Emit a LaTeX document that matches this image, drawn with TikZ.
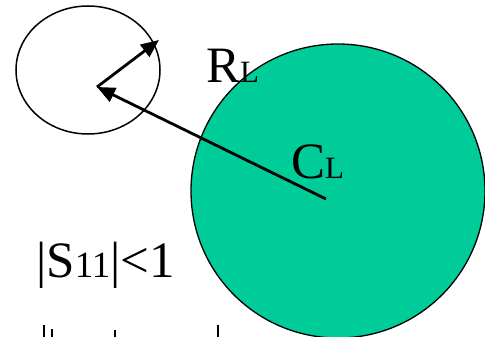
\documentclass[tikz,border=0pt]{standalone}
\usepackage{fontspec}
\setmainfont{Liberation Serif}
\usetikzlibrary{arrows.meta}
\definecolor{loadfill}{HTML}{00CC99}
\newcommand{\bigsz}{\fontsize{51}{51}\selectfont}
\newcommand{\subsz}{\fontsize{31}{31}\selectfont}
\newcommand{\midsz}{\fontsize{37}{37}\selectfont}
\tikzset{
  lbl/.style={inner sep=0pt,anchor=base west,font=\bigsz},
  vec/.style={line width=2.8pt,-{Triangle[length=18pt,width=15pt]}},
  tick/.style={line width=1.1pt}
}

\begin{document}
\begin{tikzpicture}[x=1pt,y=-1pt]
  \useasboundingbox (0,0) rectangle (485,337);
  % stability circle of the load
  \fill[loadfill,draw=black,line width=1.3pt] (338,191) circle (147);
  % unit circle
  \draw[line width=1.5pt] (88,70) ellipse (72 and 64);

  \coordinate (O) at (97,87);
  \coordinate (T) at (159,40);
  \coordinate (CL) at (326,199);

  % radius and centre vectors
  \draw[vec] (O) -- (T);
  \draw[vec] (CL) -- (O);

  \node[lbl] (rl) at (206,83) {R\subsz L};
  \node[lbl] (cl) at (291,178) {C\subsz L};
  \node[lbl] (s11) at (36,277) {|S\midsz 11\bigsz|<1};

  % cut-off marks at the bottom
  \foreach \x/\y in {44/325,52/329,115/330,218/325}
    \draw[tick] (\x,\y) -- (\x,337);
\end{tikzpicture}
\end{document}
